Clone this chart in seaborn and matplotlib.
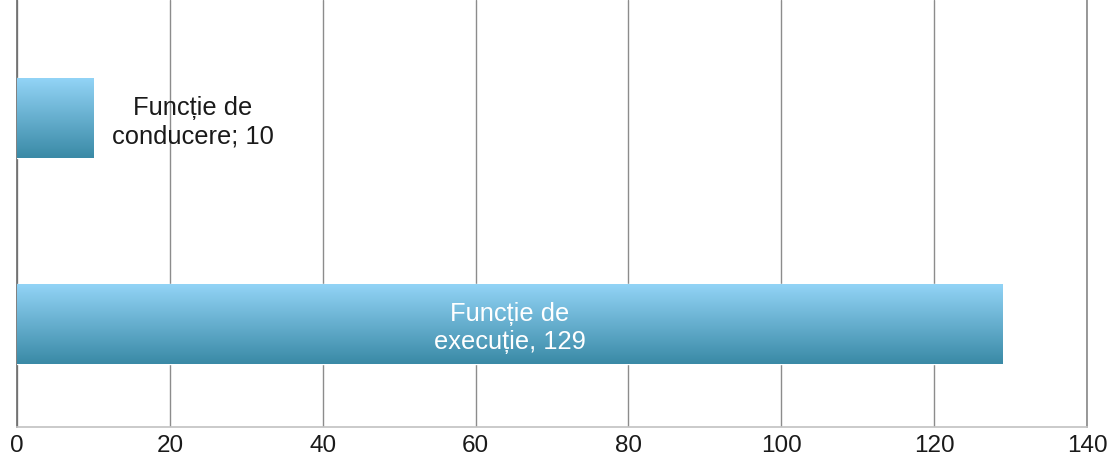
import matplotlib
matplotlib.use("Agg")
import matplotlib.pyplot as plt
import numpy as np
import pandas as pd
import seaborn as sns
from matplotlib.colors import LinearSegmentedColormap

# date
categories = ["Funcție de conducere", "Funcție de execuție"]
values = [10, 129]
bar_labels = ["Funcție de\nconducere; 10", "Funcție de\nexecuție, 129"]
x_ticks = [0, 20, 40, 60, 80, 100, 120, 140]

sns.set_theme(style="white")
plt.rcParams['font.family'] = ['Liberation Sans', 'DejaVu Sans']

fig = plt.figure(figsize=(11.1, 4.71), dpi=100)
ax = fig.add_axes([0.0153, 0.0934, 0.9640, 0.9066])

df = pd.DataFrame({"cat": categories, "val": values})
sns.barplot(data=df, y="cat", x="val", orient="h", width=0.39,
            color="#5aaed0", ax=ax, zorder=3)

# gradient vertical pe fiecare bara
grad = LinearSegmentedColormap.from_list("bar", ["#93d4f7", "#3a8aa6"])
for p in ax.patches:
    x0, y0 = p.get_x(), p.get_y()
    w, h = p.get_width(), p.get_height()
    img = ax.imshow(np.linspace(0, 1, 100).reshape(-1, 1), cmap=grad,
                    aspect='auto', extent=[x0, x0 + w, y0 + h, y0],
                    zorder=3.5, interpolation='bilinear')
    img.set_clip_path(p)

ax.set_xlim(0, 140)
ax.set_ylim(1.5, -0.573)
ax.set_xticks(x_ticks)
ax.set_yticks([])
ax.set_xlabel("")
ax.set_ylabel("")

ax.grid(axis='x', color='#8c8c8c', linewidth=1.0)
ax.set_axisbelow(True)
ax.spines['top'].set_visible(False)
ax.spines['right'].set_color('#8c8c8c')
ax.spines['left'].set_color('#6f6f6f')
ax.spines['bottom'].set_color('#c4c4c4')
ax.tick_params(axis='x', length=0, pad=6, labelsize=17.5, labelcolor='#1a1a1a')

# etichete
ax.text(values[0] + 13.0, 0.02, bar_labels[0], ha='center', va='center',
        fontsize=18.4, color='#1a1a1a', zorder=5)
ax.text(values[1] / 2, 1.02, bar_labels[1], ha='center', va='center',
        fontsize=18.4, color='white', zorder=5)

fig.savefig("out.png", dpi=100)
